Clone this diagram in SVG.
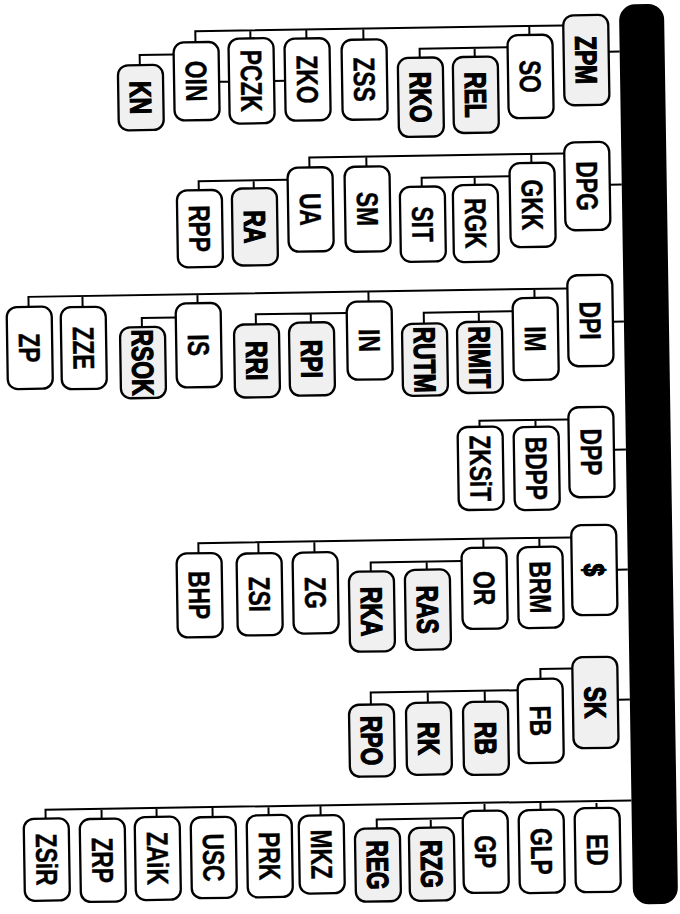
<svg xmlns="http://www.w3.org/2000/svg" width="680" height="914" viewBox="0 0 680 914">
<style>
.b{fill:#fff;stroke:#000;stroke-width:2.3}
.g{fill:#f0f0f0;stroke:#000;stroke-width:2.3}
.t{font-family:"Liberation Sans",Arial,sans-serif;font-weight:bold;font-size:30px;text-anchor:middle;fill:#000;stroke:#000;stroke-width:0.4}
.h{stroke-width:1.3}
#connectors path{fill:none;stroke:#000;stroke-width:2}
</style>
<rect width="680" height="914" fill="#fff"/>
<g transform="rotate(-0.9 340 457)">
<rect id="bar" x="626" y="9" width="45" height="900" rx="16" fill="#000"/>
<g id="connectors">
<path d="M615,56H626M570,29H202V40M536,29V38M370,29V40M313,29V38M257,29V37M514,50H426V59M481,50V59M180,52H146V62M225,80H235M280,80H291"/>
<path d="M614,189H626M569,157H314V167M536,157V166M371,157V167M514,179H426V188M479,179V187M292,179H203V188M258,179V187"/>
<path d="M615,326H626M570,292H31V302M537,292V301M371,292V302M200,292V301M85,292V303M515,314H426V325M481,314V324M349,313H258V323M313,313V322M178,315H144V324"/>
<path d="M614,454H626M569,423H480V429M536,423V430"/>
<path d="M615,574H626M570,541H197V551M538,541V550M482,541V550M313,541V552M257,541V552M460,563H369V572M425,563V571"/>
<path d="M614,704H626M569,672H537V682M514,693H367V705M481,693V704M424,693V704"/>
<path d="M626,805H40V814M591,805V812M535,805V813M479,805V813M315,805V815M263,805V814M207,805V815M151,805V814M96,805V815M457,820H371V829M425,820V829"/>
</g>
<g id="n-ZPM"><rect class="g" x="570" y="19" width="45" height="90" rx="10"/><text class="t h" transform="translate(581.8,64) rotate(90) scale(0.76,1)">ZPM</text></g>
<g id="n-SO"><rect class="b" x="514" y="38" width="45" height="83" rx="10"/><text class="t" transform="translate(525.8,79.5) rotate(90) scale(0.76,1)">SO</text></g>
<g id="n-REL"><rect class="g" x="459" y="59" width="45" height="76" rx="10"/><text class="t h" transform="translate(470.8,97) rotate(90) scale(0.76,1)">REL</text></g>
<g id="n-RKO"><rect class="g" x="404" y="59" width="45" height="79" rx="10"/><text class="t h" transform="translate(415.8,98.5) rotate(90) scale(0.76,1)">RKO</text></g>
<g id="n-ZSS"><rect class="b" x="348" y="40" width="45" height="80" rx="10"/><text class="t" transform="translate(359.8,80) rotate(90) scale(0.76,1)">ZSS</text></g>
<g id="n-ZKO"><rect class="b" x="291" y="38" width="45" height="82" rx="10"/><text class="t" transform="translate(302.8,79) rotate(90) scale(0.76,1)">ZKO</text></g>
<g id="n-PCZK"><rect class="b" x="235" y="37" width="45" height="85" rx="10"/><text class="t" transform="translate(246.8,79.5) rotate(90) scale(0.76,1)">PCZK</text></g>
<g id="n-OIN"><rect class="b" x="180" y="40" width="45" height="78" rx="10"/><text class="t" transform="translate(191.8,79) rotate(90) scale(0.76,1)">OIN</text></g>
<g id="n-KN"><rect class="g" x="124" y="62" width="45" height="65" rx="10"/><text class="t h" transform="translate(135.8,94.5) rotate(90) scale(0.76,1)">KN</text></g>

<g id="n-DPG"><rect class="b" x="569" y="146" width="45" height="88" rx="10"/><text class="t" transform="translate(580.8,190) rotate(90) scale(0.76,1)">DPG</text></g>
<g id="n-GKK"><rect class="b" x="514" y="166" width="45" height="84" rx="10"/><text class="t" transform="translate(525.8,208) rotate(90) scale(0.76,1)">GKK</text></g>
<g id="n-RGK"><rect class="b" x="457" y="187" width="45" height="77" rx="10"/><text class="t" transform="translate(468.8,225.5) rotate(90) scale(0.76,1)">RGK</text></g>
<g id="n-SIT"><rect class="b" x="404" y="188" width="45" height="75" rx="10"/><text class="t" transform="translate(415.8,225.5) rotate(90) scale(0.76,1)">SIT</text></g>
<g id="n-SM"><rect class="b" x="349" y="167" width="45" height="85" rx="10"/><text class="t" transform="translate(360.8,209.5) rotate(90) scale(0.76,1)">SM</text></g>
<g id="n-UA"><rect class="b" x="292" y="167" width="45" height="84" rx="10"/><text class="t" transform="translate(303.8,209) rotate(90) scale(0.76,1)">UA</text></g>
<g id="n-RA"><rect class="g" x="236" y="187" width="45" height="77" rx="10"/><text class="t h" transform="translate(247.8,225.5) rotate(90) scale(0.76,1)">RA</text></g>
<g id="n-RPP"><rect class="b" x="181" y="188" width="45" height="77" rx="10"/><text class="t" transform="translate(192.8,226.5) rotate(90) scale(0.76,1)">RPP</text></g>

<g id="n-DPI"><rect class="b" x="570" y="279" width="45" height="91" rx="10"/><text class="t" transform="translate(581.8,324.5) rotate(90) scale(0.76,1)">DPI</text></g>
<g id="n-IM"><rect class="b" x="515" y="301" width="45" height="82" rx="10"/><text class="t" transform="translate(526.8,342) rotate(90) scale(0.76,1)">IM</text></g>
<g id="n-RIMIT"><rect class="g" x="459" y="324" width="45" height="71" rx="10"/><text class="t h" transform="translate(470.8,359.5) rotate(90) scale(0.76,1)">RIMIT</text></g>
<g id="n-RUTM"><rect class="g" x="404" y="325" width="45" height="72" rx="10"/><text class="t h" transform="translate(415.8,361) rotate(90) scale(0.76,1)">RUTM</text></g>
<g id="n-IN"><rect class="b" x="349" y="302" width="45" height="78" rx="10"/><text class="t" transform="translate(360.8,341) rotate(90) scale(0.76,1)">IN</text></g>
<g id="n-RPI"><rect class="g" x="291" y="322" width="45" height="73" rx="10"/><text class="t h" transform="translate(302.8,358.5) rotate(90) scale(0.76,1)">RPI</text></g>
<g id="n-RRI"><rect class="g" x="236" y="323" width="45" height="73" rx="10"/><text class="t h" transform="translate(247.8,359.5) rotate(90) scale(0.76,1)">RRI</text></g>
<g id="n-IS"><rect class="b" x="178" y="301" width="45" height="84" rx="10"/><text class="t" transform="translate(189.8,343) rotate(90) scale(0.76,1)">IS</text></g>
<g id="n-RSOK"><rect class="g" x="122" y="324" width="45" height="71" rx="10"/><text class="t h" transform="translate(133.8,359.5) rotate(90) scale(0.76,1)">RSOK</text></g>
<g id="n-ZZE"><rect class="b" x="63" y="303" width="45" height="82" rx="10"/><text class="t" transform="translate(74.8,344) rotate(90) scale(0.76,1)">ZZE</text></g>
<g id="n-ZP"><rect class="b" x="9" y="302" width="45" height="82" rx="10"/><text class="t" transform="translate(20.8,343) rotate(90) scale(0.76,1)">ZP</text></g>

<g id="n-DPP"><rect class="b" x="569" y="411" width="45" height="90" rx="10"/><text class="t" transform="translate(580.8,456) rotate(90) scale(0.76,1)">DPP</text></g>
<g id="n-BDPP"><rect class="b" x="514" y="430" width="45" height="83" rx="10"/><text class="t" transform="translate(525.8,471.5) rotate(90) scale(0.76,1)">BDPP</text></g>
<g id="n-ZKSiT"><rect class="b" x="458" y="429" width="45" height="83" rx="10"/><text class="t" transform="translate(469.8,470.5) rotate(90) scale(0.76,1)">ZKSiT</text></g>

<g id="n-S"><rect class="b" x="570" y="529" width="45" height="90" rx="10"/><text class="t h" transform="translate(581.8,574) rotate(90) scale(0.76,1)">$</text></g>
<g id="n-BRM"><rect class="b" x="516" y="550" width="45" height="81" rx="10"/><text class="t" transform="translate(527.8,590.5) rotate(90) scale(0.76,1)">BRM</text></g>
<g id="n-OR"><rect class="b" x="460" y="550" width="45" height="81" rx="10"/><text class="t" transform="translate(471.8,590.5) rotate(90) scale(0.76,1)">OR</text></g>
<g id="n-RAS"><rect class="g" x="403" y="571" width="45" height="80" rx="10"/><text class="t h" transform="translate(414.8,611) rotate(90) scale(0.76,1)">RAS</text></g>
<g id="n-RKA"><rect class="g" x="347" y="572" width="45" height="80" rx="10"/><text class="t h" transform="translate(358.8,612) rotate(90) scale(0.76,1)">RKA</text></g>
<g id="n-ZG"><rect class="b" x="291" y="552" width="45" height="81" rx="10"/><text class="t" transform="translate(302.8,592.5) rotate(90) scale(0.76,1)">ZG</text></g>
<g id="n-ZSI"><rect class="b" x="235" y="552" width="45" height="82" rx="10"/><text class="t" transform="translate(246.8,593) rotate(90) scale(0.76,1)">ZSI</text></g>
<g id="n-BHP"><rect class="b" x="175" y="551" width="45" height="84" rx="10"/><text class="t" transform="translate(186.8,593) rotate(90) scale(0.76,1)">BHP</text></g>

<g id="n-SK"><rect class="g" x="569" y="661" width="45" height="91" rx="10"/><text class="t h" transform="translate(580.8,706.5) rotate(90) scale(0.76,1)">SK</text></g>
<g id="n-FB"><rect class="b" x="514" y="682" width="45" height="84" rx="10"/><text class="t" transform="translate(525.8,724) rotate(90) scale(0.76,1)">FB</text></g>
<g id="n-RB"><rect class="g" x="459" y="704" width="45" height="73" rx="10"/><text class="t h" transform="translate(470.8,740.5) rotate(90) scale(0.76,1)">RB</text></g>
<g id="n-RK"><rect class="g" x="402" y="704" width="45" height="72" rx="10"/><text class="t h" transform="translate(413.8,740) rotate(90) scale(0.76,1)">RK</text></g>
<g id="n-RPO"><rect class="g" x="345" y="705" width="45" height="72" rx="10"/><text class="t h" transform="translate(356.8,741) rotate(90) scale(0.76,1)">RPO</text></g>

<g id="n-ED"><rect class="b" x="569" y="812" width="45" height="84" rx="10"/><text class="t" transform="translate(580.8,854) rotate(90) scale(0.76,1)">ED</text></g>
<g id="n-GLP"><rect class="b" x="513" y="813" width="45" height="83" rx="10"/><text class="t" transform="translate(524.8,854.5) rotate(90) scale(0.76,1)">GLP</text></g>
<g id="n-GP"><rect class="b" x="457" y="813" width="45" height="82" rx="10"/><text class="t" transform="translate(468.8,854) rotate(90) scale(0.76,1)">GP</text></g>
<g id="n-RZG"><rect class="g" x="403" y="829" width="45" height="73" rx="10"/><text class="t h" transform="translate(414.8,865.5) rotate(90) scale(0.76,1)">RZG</text></g>
<g id="n-REG"><rect class="g" x="349" y="829" width="45" height="73" rx="10"/><text class="t h" transform="translate(360.8,865.5) rotate(90) scale(0.76,1)">REG</text></g>
<g id="n-MKZ"><rect class="b" x="293" y="815" width="45" height="78" rx="10"/><text class="t" transform="translate(304.8,854) rotate(90) scale(0.76,1)">MKZ</text></g>
<g id="n-PRK"><rect class="b" x="241" y="814" width="45" height="82" rx="10"/><text class="t" transform="translate(252.8,855) rotate(90) scale(0.76,1)">PRK</text></g>
<g id="n-USC"><rect class="b" x="185" y="815" width="45" height="81" rx="10"/><text class="t" transform="translate(196.8,855.5) rotate(90) scale(0.76,1)">USC</text></g>
<g id="n-ZAiK"><rect class="b" x="129" y="814" width="45" height="83" rx="10"/><text class="t" transform="translate(140.8,855.5) rotate(90) scale(0.76,1)">ZAiK</text></g>
<g id="n-ZRP"><rect class="b" x="74" y="815" width="45" height="83" rx="10"/><text class="t" transform="translate(85.8,856.5) rotate(90) scale(0.76,1)">ZRP</text></g>
<g id="n-ZSiR"><rect class="b" x="18" y="814" width="45" height="82" rx="10"/><text class="t" transform="translate(29.8,855) rotate(90) scale(0.76,1)">ZSiR</text></g>
</g>
</svg>
